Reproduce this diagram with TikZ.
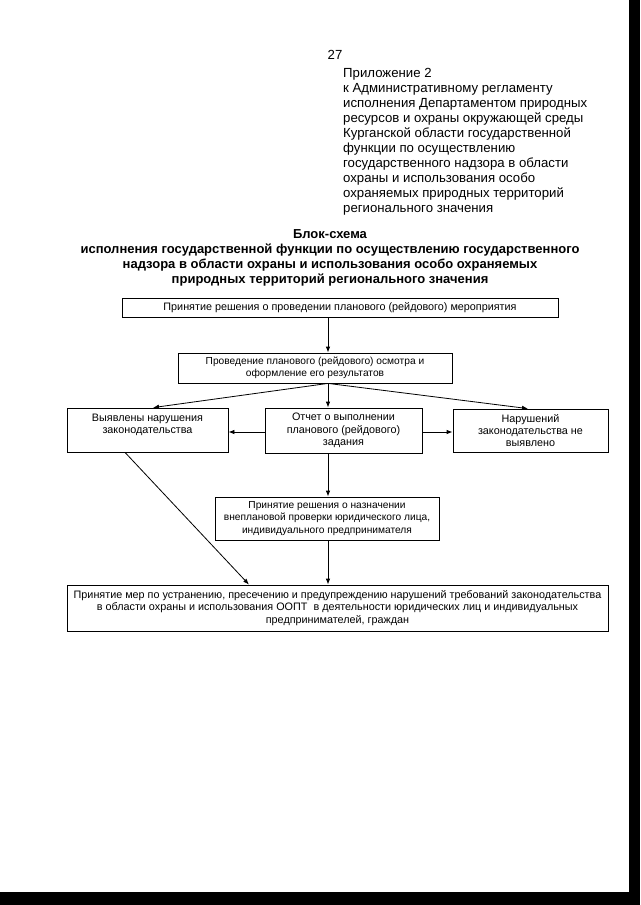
\documentclass[tikz,border=0pt]{standalone}
\usepackage{fontspec}
\setmainfont{Liberation Sans}
\usetikzlibrary{arrows.meta}
\begin{document}
\begin{tikzpicture}[x=1pt,y=-1pt,
  box/.style={draw, line width=0.8pt, inner sep=0pt, align=center, font=\fontsize{10.8}{12.3}\selectfont},
  smallbox/.style={box, font=\fontsize{10.2}{12.3}\selectfont},
  arr/.style={-{Latex[length=6pt,width=4.5pt]}, line width=0.8pt},
  edgefill/.style={fill=black}]
\useasboundingbox (0,0) rectangle (640,905);
\fill[white] (0,0) rectangle (640,905);
\fill[edgefill] (629,0) rectangle (640,905);
\fill[edgefill] (0,892) rectangle (640,905);

\node[inner sep=0pt, font=\fontsize{13.2}{15}\selectfont] (pg) at (335,55) {27};
\node[anchor=north west, align=left, inner sep=0pt, font=\fontsize{13.2}{15}\selectfont] (app) at (343,68)
{Приложение 2\\
к Административному регламенту\\
исполнения Департаментом природных\\
ресурсов и охраны окружающей среды\\
Курганской области государственной\\
функции по осуществлению\\
государственного надзора в области\\
охраны и использования особо\\
охраняемых природных территорий\\
регионального значения};

\node[inner sep=0pt, align=center, font=\bfseries\fontsize{13}{15}\selectfont] (title) at (330,258)
{Блок-схема\\
исполнения государственной функции по осуществлению государственного\\
надзора в области охраны и использования особо охраняемых\\
природных территорий регионального значения};

\node[box, minimum width=436pt, minimum height=19pt] (B1) at (340,307.5)
{Принятие решения о проведении планового (рейдового) мероприятия};
\node[smallbox, minimum width=274pt, minimum height=30pt] (B2) at (315,368)
{Проведение планового (рейдового) осмотра и\\оформление его результатов};
\node[box, minimum width=161pt, minimum height=44pt] (BL) at (147.5,430)
{Выявлены нарушения\\законодательства\\\mbox{}};
\node[box, minimum width=157pt, minimum height=45pt] (BC) at (343.5,430.5)
{Отчет о выполнении\\планового (рейдового)\\задания};
\node[box, minimum width=155pt, minimum height=43pt] (BR) at (530.5,430.5)
{Нарушений\\законодательства не\\выявлено};
\node[smallbox, minimum width=224pt, minimum height=43pt] (BD) at (327,518.5)
{Принятие решения о назначении\\внеплановой проверки юридического лица,\\индивидуального предпринимателя};
\node[box, minimum width=541pt, minimum height=46pt] (BE) at (337.5,608)
{Принятие мер по устранению, пресечению и предупреждению нарушений требований законодательства\\в области охраны и использования ООПТ\ \ в деятельности юридических лиц и индивидуальных\\предпринимателей, граждан};

\coordinate (sp) at (328,0);
\coordinate (tL) at (153,0);
\coordinate (tR) at (528,0);
\coordinate (cy) at (0,432);
\coordinate (dA) at (125,0);
\coordinate (dB) at (249,0);

\draw[arr] (B1.south -| sp) -- (B2.north -| sp);
\draw[arr] (B2.south -| sp) -- (BL.north -| tL);
\draw[arr] (B2.south -| sp) -- (BC.north -| sp);
\draw[arr] (B2.south -| sp) -- (BR.north -| tR);
\draw[arr] (BC.west |- cy) -- (BL.east |- cy);
\draw[arr] (BC.east |- cy) -- (BR.west |- cy);
\draw[arr] (BC.south -| sp) -- (BD.north -| sp);
\draw[arr] (BD.south -| sp) -- (BE.north -| sp);
\draw[arr] (BL.south -| dA) -- (BE.north -| dB);
\end{tikzpicture}
\end{document}
